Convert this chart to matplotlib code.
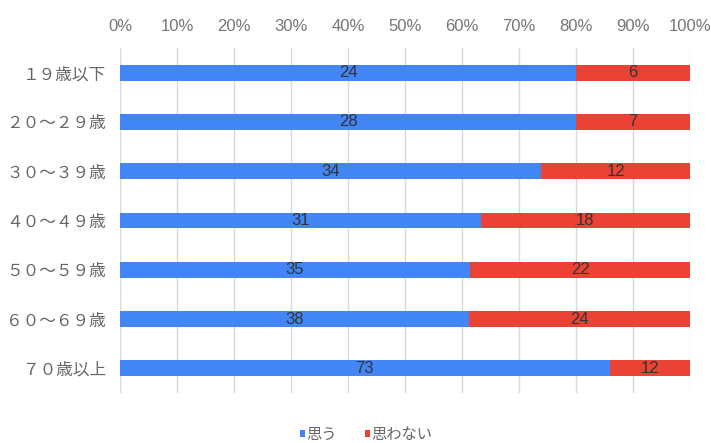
import numpy as np
import matplotlib.pyplot as plt
from matplotlib.ticker import PercentFormatter

plt.rcParams['font.family'] = ['Noto Sans CJK JP', 'DejaVu Sans']

categories = ['１９歳以下', '２０～２９歳', '３０～３９歳', '４０～４９歳',
              '５０～５９歳', '６０～６９歳', '７０歳以上']
yes = [24, 28, 34, 31, 35, 38, 73]
no = [6, 7, 12, 18, 22, 24, 12]
series_names = ['思う', '思わない']
colors = ['#4285F4', '#EA4335']

yes_a = np.array(yes, dtype=float)
no_a = np.array(no, dtype=float)
total = yes_a + no_a
yes_p = yes_a / total * 100
no_p = no_a / total * 100

fig = plt.figure(figsize=(7.11, 4.43), dpi=100)
ax = fig.add_axes([120 / 711, 1 - 393 / 443, 570 / 711, 345 / 443])

y = np.arange(len(categories))
ax.barh(y, yes_p, height=0.32, color=colors[0], label=series_names[0], zorder=3)
ax.barh(y, no_p, left=yes_p, height=0.32, color=colors[1], label=series_names[1], zorder=3)

for i in range(len(categories)):
    ax.text(yes_p[i] / 2, y[i], str(yes[i]), ha='center', va='center',
            fontsize=12, color='#333333', family=['Liberation Sans'], zorder=4)
    ax.text(yes_p[i] + no_p[i] / 2, y[i], str(no[i]), ha='center', va='center',
            fontsize=12, color='#333333', family=['Liberation Sans'], zorder=4)

ax.set_xlim(0, 100)
ax.set_ylim(len(categories) - 0.5, -0.5)
ax.set_xticks(np.arange(0, 101, 10))
ax.xaxis.set_major_formatter(PercentFormatter(decimals=0))
ax.xaxis.tick_top()
ax.tick_params(axis='x', length=0, pad=10, labelsize=12, labelcolor='#757575')
for lab in ax.get_xticklabels():
    lab.set_family(['Liberation Sans'])
ax.set_yticks(y)
ax.set_yticklabels(categories)
ax.tick_params(axis='y', length=0, pad=10, labelsize=12, labelcolor='#666666')
ax.grid(axis='x', color='#d9d9d9', linewidth=1, zorder=0)
for s in ax.spines.values():
    s.set_visible(False)

leg = fig.legend(loc='lower center', bbox_to_anchor=(0.515, -0.03), ncol=2,
                 frameon=False, fontsize=11, handlelength=0.33, handleheight=0.33,
                 handletextpad=0.1, columnspacing=1.8)
for t in leg.get_texts():
    t.set_color('#666666')

fig.savefig('out.png', dpi=100)
